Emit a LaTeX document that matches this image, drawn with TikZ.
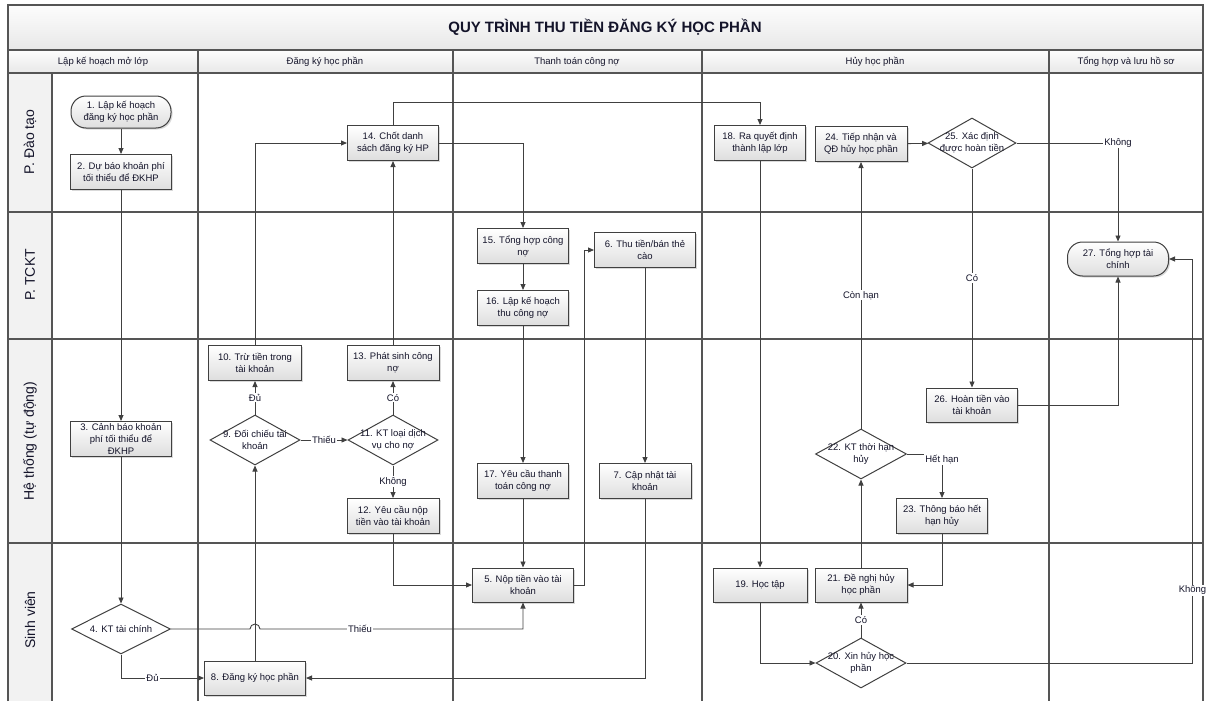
\documentclass[tikz,border=0pt]{standalone}
\usepackage{fontspec}
\setmainfont{Liberation Sans}
\usetikzlibrary{shapes.geometric,arrows.meta,shadows}
\definecolor{lineclr}{HTML}{404040}
\definecolor{laneclr}{HTML}{555555}
\definecolor{txtclr}{HTML}{14142A}
\begin{document}
\begin{tikzpicture}[x=1pt,y=-1pt]
\tikzstyle{every node}+=[text=txtclr]
\tikzstyle{box}=[draw=lineclr, line width=1pt, top color=white, bottom color=black!13, drop shadow={shadow xshift=1.5pt,shadow yshift=-1.5pt,opacity=0.3}, minimum width=92pt, minimum height=35pt, inner sep=1pt, align=center, font=\fontsize{9.5}{12}\selectfont]
\tikzstyle{term}=[box, rounded corners=15pt, minimum width=100pt, minimum height=32pt]
\tikzstyle{dec}=[draw=lineclr, line width=1pt, diamond, fill=white, minimum width=90pt, minimum height=50pt, inner sep=0pt]
\tikzstyle{dectxt}=[align=center, inner sep=0pt, font=\fontsize{9.5}{12}\selectfont]
\tikzstyle{flow}=[draw=lineclr, line width=0.9pt, -{Triangle[length=6pt,width=5pt]}]
\tikzstyle{lbl}=[fill=white, inner sep=1pt, font=\fontsize{9.5}{11}\selectfont]
\tikzstyle{laneline}=[draw=laneclr, line width=1.5pt]
\tikzstyle{rowline}=[draw=laneclr, line width=2.2pt]
\tikzstyle{cell}=[top color=black!1, bottom color=black!9]
\tikzstyle{hdr}=[font=\fontsize{9.5}{11}\selectfont]
\tikzstyle{lanelbl}=[rotate=90, font=\fontsize{14}{16}\selectfont]
\path[use as bounding box] (0,0) rectangle (1206,701);
\fill[cell] (8,5) rectangle (1203,50);
\fill[cell] (8,50) rectangle (1203,73);
\fill[black!5] (8,73) rectangle (52,701);
\draw[laneline] (8,701) -- (8,5) -- (1203,5) -- (1203,701);
\draw[laneline] (8,50) -- (1203,50);
\draw[laneline] (8,73) -- (1203,73);
\draw[laneline] (52,73) -- (52,701);
\foreach \cx in {198,453,702,1049}
  \draw[laneline] (\cx,50) -- (\cx,701);
\foreach \ry in {212,339,543}
  \draw[rowline] (8,\ry) -- (1203,\ry);
\node[font=\bfseries\fontsize{15}{17}\selectfont] (title) at (605,27) {QUY TRÌNH THU TIỀN ĐĂNG KÝ HỌC PHẦN};
\node[hdr] (h1) at (103,62) {Lập kế hoạch mở lớp};
\node[hdr] (h2) at (325,62) {Đăng ký học phần};
\node[hdr] (h3) at (577,62) {Thanh toán công nợ};
\node[hdr] (h4) at (875,62) {Hủy học phần};
\node[hdr] (h5) at (1126,62) {Tổng hợp và lưu hồ sơ};
\node[lanelbl] (l1) at (30,142) {P. Đào tạo};
\node[lanelbl] (l2) at (30,275) {P. TCKT};
\node[lanelbl] (l3) at (30,441) {Hệ thống (tự động)};
\node[lanelbl] (l4) at (30,620) {Sinh viên};
\node[term] (n1) at (121,112) {1. Lập kế hoạch\\đăng ký học phần};
\node[box, minimum width=101pt] (n2) at (121,172) {2. Dự báo khoản phí\\tối thiểu để ĐKHP};
\node[box, minimum width=101pt] (n3) at (121,439) {3. Cảnh báo khoản\\phí tối thiểu để\\ĐKHP};
\node[dec, minimum width=99pt] (n4) at (121,629) {};
\node[dectxt] (t4) at (n4) {4. KT tài chính};
\node[box, minimum width=101pt, minimum height=34pt] (n8) at (255,678) {8. Đăng ký học phần};
\node[dec] (n9) at (255,440) {};
\node[dectxt] (t9) at (n9) {9. Đối chiếu tài\\khoản};
\node[box, minimum width=93pt] (n10) at (255,363) {10. Trừ tiền trong\\tài khoản};
\node[dec] (n11) at (393,440) {};
\node[dectxt] (t11) at (n11) {11. KT loại dịch\\vụ cho nợ};
\node[box] (n12) at (393,516) {12. Yêu cầu nộp\\tiền vào tài khoản};
\node[box] (n13) at (393,363) {13. Phát sinh công\\nợ};
\node[box, minimum width=91pt] (n14) at (393,143) {14. Chốt danh\\sách đăng ký HP};
\node[box, minimum width=91pt] (n15) at (523,246) {15. Tổng hợp công\\nợ};
\node[box, minimum width=91pt] (n16) at (523,308) {16. Lập kế hoạch\\thu công nợ};
\node[box, minimum width=91pt] (n17) at (523,481) {17. Yêu cầu thanh\\toán công nợ};
\node[box, minimum width=101pt, minimum height=34pt] (n5) at (523,585) {5. Nộp tiền vào tài\\khoản};
\node[box, minimum width=101pt] (n6) at (645,250) {6. Thu tiền/bán thẻ\\cào};
\node[box] (n7) at (645,481) {7. Cập nhật tài\\khoản};
\node[box, minimum width=91pt] (n18) at (760,143) {18. Ra quyết định\\thành lập lớp};
\node[box, minimum width=94pt, minimum height=34pt] (n19) at (760,585) {19. Học tập};
\node[box] (n24) at (861,144) {24. Tiếp nhận và\\QĐ hủy học phần};
\node[dec, minimum width=88pt] (n25) at (972,143) {};
\node[dectxt] (t25) at (n25) {25. Xác định\\được hoàn tiền};
\node[dec, minimum width=91pt] (n22) at (861,454) {};
\node[dectxt] (t22) at (n22) {22. KT thời hạn\\hủy};
\node[box, minimum height=34pt] (n21) at (861,585) {21. Đề nghị hủy\\học phần};
\node[dec] (n20) at (861,663) {};
\node[dectxt] (t20) at (n20) {20. Xin hủy học\\phần};
\node[box, minimum width=91pt] (n23) at (942,516) {23. Thông báo hết\\hạn hủy};
\node[box, minimum width=91pt, minimum height=34pt] (n26) at (972,405) {26. Hoàn tiền vào\\tài khoản};
\node[term, minimum width=101pt, minimum height=34pt] (n27) at (1118,259) {27. Tổng hợp tài\\chính};
\draw[flow] (n1) -- (n2);
\draw[flow] (n2) -- (n3);
\draw[flow] (n3) -- (n4);
\draw[flow] (n4.south) |- node[lbl,pos=0.69]{Đủ} (n8.west);
\coordinate (hop) at (n8.north |- n4.east);
\draw[flow] (n4.east) -- ([xshift=-5pt]hop) arc[start angle=180,end angle=0,radius=5pt] -| node[lbl,pos=0.19]{Thiếu} (n5.south);
\draw[flow] (n8.north) -- (n9.south);
\draw[flow] (n9) -- node[lbl]{Đủ} (n10);
\draw[flow] (n9) -- node[lbl]{Thiếu} (n11);
\draw[flow] (n11) -- node[lbl]{Có} (n13);
\draw[flow] (n11) -- node[lbl]{Không} (n12);
\draw[flow] (n10.north) |- (n14.west);
\draw[flow] (n13) -- (n14);
\draw[flow] (n14.east) -| (n15.north);
\draw[flow] (n14.north) -- ++(0pt,23pt) -| (n18.north);
\draw[flow] (n15) -- (n16);
\draw[flow] (n16) -- (n17);
\draw[flow] (n17) -- (n5);
\draw[flow] (n12.south) |- (n5.west);
\draw[flow] (n5.east) -- ++(10pt,0pt) |- (n6.west);
\draw[flow] (n6) -- (n7);
\draw[flow] (n7.south) |- (n8.east);
\draw[flow] (n18) -- (n19);
\draw[flow] (n19.south) |- (n20.west);
\draw[flow] (n20) -- node[lbl]{Có} (n21);
\draw[flow] (n20.east) -- ++(286pt,0pt) |- node[lbl,pos=0.09]{Không} (n27.east);
\draw[flow] (n21) -- (n22);
\draw[flow] (n22) -- node[lbl]{Còn hạn} (n24);
\draw[flow] (n22.east) -| node[lbl,pos=0.56]{Hết hạn} (n23.north);
\draw[flow] (n23.south) |- (n21.east);
\draw[flow] (n24) -- (n25);
\draw[flow] (n25.east) -| node[lbl,pos=0.5]{Không} (n27.north);
\draw[flow] (n25) -- node[lbl]{Có} (n26);
\draw[flow] (n26.east) -| (n27.south);
\end{tikzpicture}
\end{document}
